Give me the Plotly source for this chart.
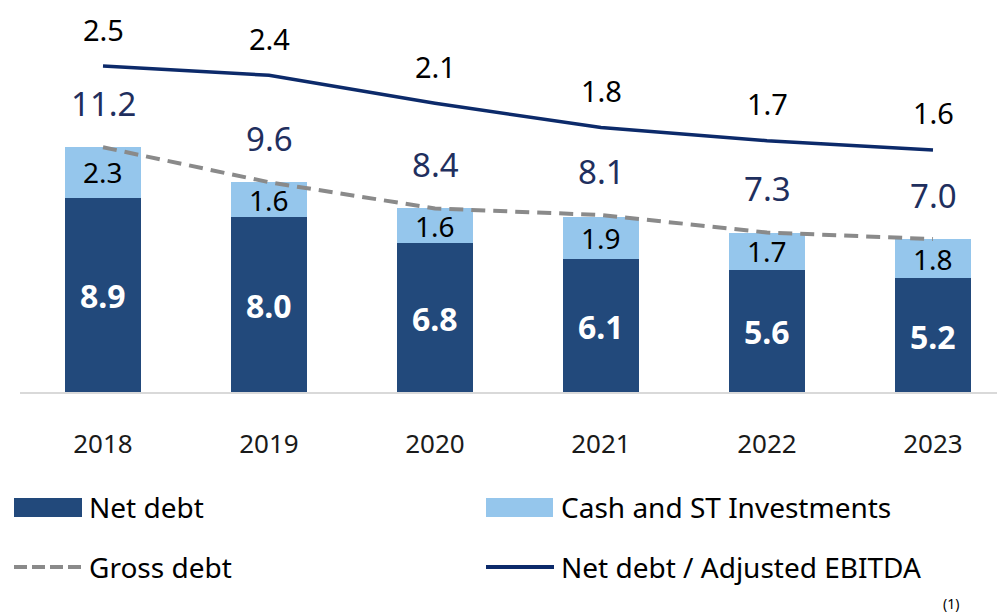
import plotly.graph_objects as go

years = ["2018", "2019", "2020", "2021", "2022", "2023"]
net_debt = [8.9, 8.0, 6.8, 6.1, 5.6, 5.2]
cash = [2.3, 1.6, 1.6, 1.9, 1.7, 1.8]
gross_debt = [11.2, 9.6, 8.4, 8.1, 7.3, 7.0]
ratio = [2.5, 2.4, 2.1, 1.84, 1.7, 1.6]
ratio_labels = ["2.5", "2.4", "2.1", "1.8", "1.7", "1.6"]

FONT = "Noto Sans"
NAVY_BAR = "#22497B"
LIGHT = "#95C6EC"
LINE_NAVY = "#0C2A6A"
GRAY = "#8A8A8A"
LABEL_NAVY = "#1F2F5E"

# page has an 8px body margin: figure is sized/offset so page coordinates match
OFF = 8
W, H = 1005 - OFF, 612 - OFF
xs = list(range(len(years)))

fig = go.Figure()
fig.add_trace(go.Bar(x=xs, y=net_debt, marker=dict(color=NAVY_BAR, line=dict(width=0)),
                     width=0.46, name="Net debt", showlegend=False))
fig.add_trace(go.Bar(x=xs, y=cash, marker=dict(color=LIGHT, line=dict(width=0)),
                     width=0.46, name="Cash and ST Investments", showlegend=False))
fig.add_trace(go.Scatter(x=xs, y=gross_debt, mode="lines", name="Gross debt",
                         line=dict(color=GRAY, width=4, dash="14px,8px"), showlegend=False))
fig.add_trace(go.Scatter(x=xs, y=ratio, mode="lines", yaxis="y2",
                         name="Net debt / Adjusted EBITDA",
                         line=dict(color=LINE_NAVY, width=3.5), showlegend=False))

ann = []
for i in xs:
    ann.append(dict(x=i, y=net_debt[i] / 2, xref="x", yref="y", text=f"{net_debt[i]:.1f}",
                    showarrow=False, font=dict(family=FONT, size=32, color="white", weight="bold"),
                    yshift=-1))
    ann.append(dict(x=i, y=net_debt[i] + cash[i] / 2, xref="x", yref="y", text=f"{cash[i]:.1f}",
                    showarrow=False, font=dict(family=FONT, size=28, color="black")))
    ann.append(dict(x=i, y=gross_debt[i], xref="x", yref="y", text=f"{gross_debt[i]:.1f}",
                    showarrow=False, yshift=44, font=dict(family=FONT, size=33, color=LABEL_NAVY)))
    ann.append(dict(x=i, y=ratio[i], xref="x", yref="y2", text=ratio_labels[i],
                    showarrow=False, yshift=37, borderpad=0,
                    font=dict(family=FONT, size=29, color="black")))

def px(x):
    return (x - OFF) / W

def py(y):
    return (H - (y - OFF)) / H

shapes = [
    dict(type="rect", xref="paper", yref="paper", x0=px(14), x1=px(82), y0=py(517), y1=py(498),
         fillcolor=NAVY_BAR, line=dict(width=0)),
    dict(type="rect", xref="paper", yref="paper", x0=px(486), x1=px(553), y0=py(517), y1=py(498),
         fillcolor=LIGHT, line=dict(width=0)),
    dict(type="line", xref="paper", yref="paper", x0=px(14), x1=px(81), y0=py(567), y1=py(567),
         line=dict(color=GRAY, width=4, dash="13px,5px")),
    dict(type="line", xref="paper", yref="paper", x0=px(486), x1=px(554), y0=py(567), y1=py(567),
         line=dict(color=LINE_NAVY, width=4)),
]
legend_text = [("Net debt", 87, 507), ("Gross debt", 87, 567),
               ("Cash and ST Investments", 559, 507), ("Net debt / Adjusted EBITDA", 559, 567)]
for t, x, y in legend_text:
    ann.append(dict(x=px(x), y=py(y), xref="paper", yref="paper", text=t, showarrow=False,
                    xanchor="left", yanchor="middle", font=dict(family=FONT, size=28, color="black")))
ann.append(dict(x=px(951), y=py(603), xref="paper", yref="paper", text="(1)", showarrow=False,
                xanchor="center", yanchor="middle", font=dict(family=FONT, size=14, color="black")))

PX_PER_UNIT = 21.85
base = 392 - OFF
y_top = base / PX_PER_UNIT
r_px = 93.3
top_pt = 66 - OFF
y2_top = 2.5 + top_pt / r_px
y2_bot = 2.5 - (base - top_pt) / r_px

fig.update_layout(
    width=W, height=H,
    margin=dict(l=0, r=0, t=0, b=0),
    barmode="stack",
    plot_bgcolor="white", paper_bgcolor="white",
    font=dict(family=FONT, color="black"),
    xaxis=dict(domain=[(20 - OFF) / W, 1], range=[-0.5, -0.5 + (W - (20 - OFF)) / 166],
               tickmode="array", tickvals=xs, ticktext=years, showgrid=False, zeroline=False,
               showline=True, linecolor="#D9D9D9", linewidth=2,
               ticks="outside", ticklen=28, tickcolor="rgba(0,0,0,0)",
               tickfont=dict(family=FONT, size=26, color="#1a1a1a")),
    yaxis=dict(domain=[(H - base) / H, 1], range=[0, y_top], visible=False, showgrid=False),
    yaxis2=dict(overlaying="y", range=[y2_bot, y2_top], visible=False, showgrid=False),
    annotations=ann,
    shapes=shapes,
    showlegend=False,
)

fig.write_html("out.html")
